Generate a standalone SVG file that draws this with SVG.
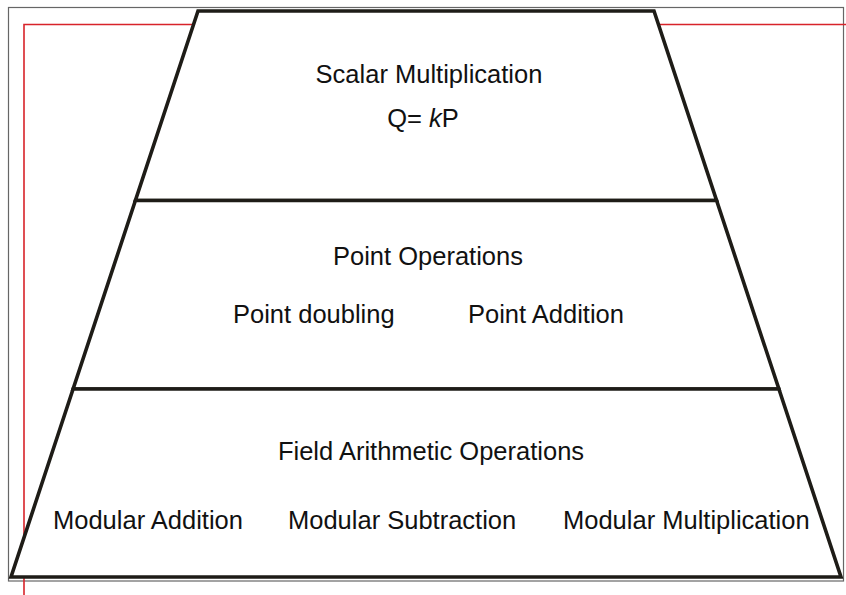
<svg xmlns="http://www.w3.org/2000/svg" width="846" height="595" viewBox="0 0 846 595">
  <style>
    .tier { fill: #ffffff; stroke: #1e1c17; stroke-width: 3.6; stroke-linejoin: miter; }
    .label { font-family: "Liberation Sans", Arial, sans-serif; font-size: 25.5px; fill: #111111; }
    .mid { text-anchor: middle; }
    .frame { fill: none; stroke: #666666; stroke-width: 1.2; }
    .trim { fill: none; stroke: #d8232a; stroke-width: 1.6; }
  </style>
  <rect x="0" y="0" width="846" height="595" fill="#ffffff"/>

  <!-- page frame and trim lines -->
  <rect class="frame" x="8.5" y="7.5" width="835" height="573.5"/>
  <polyline class="trim" points="846,24.5 24,24.5 24,595"/>

  <!-- pyramid tiers -->
  <g id="connectors"/>

  <g id="scalar-multiplication">
    <polygon class="tier" points="198,11 654,11 716.6,200.5 135.4,200.5"/>
    <text class="label mid" x="429" y="83">Scalar Multiplication</text>
    <text class="label mid" x="423" y="127">Q= <tspan font-style="italic">k</tspan>P</text>
  </g>

  <g id="point-operations">
    <polygon class="tier" points="135.4,200.5 716.6,200.5 778.9,389 73.1,389"/>
    <text class="label mid" x="428" y="265">Point Operations</text>
    <text class="label" x="233" y="323">Point doubling</text>
    <text class="label" x="468" y="323">Point Addition</text>
  </g>

  <g id="field-arithmetic">
    <polygon class="tier" points="73.1,389 778.9,389 841,577 11,577"/>
    <text class="label mid" x="431" y="460">Field Arithmetic Operations</text>
    <text class="label" x="53" y="528.5">Modular Addition</text>
    <text class="label" x="288" y="528.5">Modular Subtraction</text>
    <text class="label" x="563" y="528.5">Modular Multiplication</text>
  </g>
</svg>
